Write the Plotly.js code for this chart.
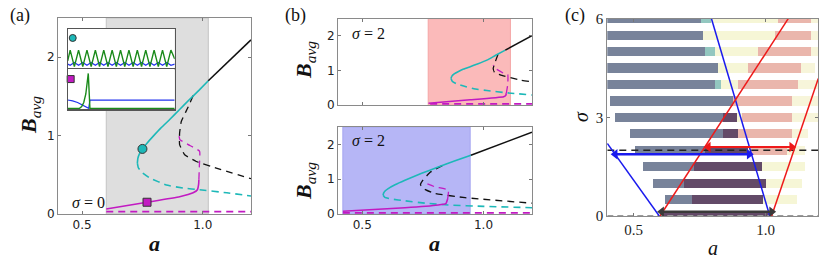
<!DOCTYPE html>
<html><head><meta charset="utf-8">
<script src="https://cdn.plot.ly/plotly-3.0.1.min.js"></script>
<style>html,body{margin:0;padding:0;background:#fff}#chart{width:830px;height:271px}</style>
</head><body><div id="chart"></div><script>
// ---------- Panel (a) : sigma = 0 ----------
const shadeA = [0.6, 1.023];
const aBlackSolidX = [1.023, 1.2], aBlackSolidY = [1.70, 2.22];
const aCyanSolidX = [1.023, 0.985, 0.945, 0.903, 0.863, 0.826, 0.794, 0.768, 0.75, 0.738, 0.731, 0.729];
const aCyanSolidY = [1.70, 1.58, 1.46, 1.33, 1.205, 1.095, 0.99, 0.90, 0.83, 0.77, 0.71, 0.65];
const aCyanDashX = [0.729, 0.733, 0.748, 0.78, 0.849, 0.92, 0.987, 1.1, 1.2];
const aCyanDashY = [0.65, 0.59, 0.53, 0.46, 0.37, 0.33, 0.31, 0.27, 0.23];
const aBlackDashX = [0.96, 0.938, 0.911, 0.904, 0.904, 0.925, 0.973, 1.056, 1.2];
const aBlackDashY = [1.51, 1.355, 1.18, 1.03, 0.885, 0.756, 0.67, 0.586, 0.45];
const aMagSolidX = [0.6, 0.769, 0.904, 0.96, 0.978, 0.983, 0.984];
const aMagSolidY = [0.064, 0.15, 0.22, 0.27, 0.31, 0.38, 0.44];
const aMagDashX = [0.984, 0.986, 0.987, 0.94, 0.905, 0.9];
const aMagDashY = [0.44, 0.62, 0.80, 0.885, 0.95, 1.03];
const aMagLowX = [0.6, 1.2], aMagLowY = [0.03, 0.03];
const aCircle = {a: [0.75], B: [0.83]};
const aSquare = {a: [0.769], B: [0.15]};

// inset time series
const insTopT = [0, 0.3, 0.81, 1.32, 1.83, 2.34, 2.85, 3.36, 3.87, 4.38, 4.89, 5.4, 5.91, 6.42, 6.93, 7.44, 7.95, 8.46, 8.97, 9.48, 9.99, 10.5, 11.01, 11.52, 12.03, 12.54, 13];
const insTopGreen = [0.2, 0.47, 0.06, 0.47, 0.06, 0.47, 0.06, 0.47, 0.06, 0.47, 0.06, 0.47, 0.06, 0.47, 0.06, 0.47, 0.06, 0.47, 0.06, 0.47, 0.06, 0.47, 0.06, 0.47, 0.06, 0.47, 0.25];
const insTopBlue = [0.12, 0.09, 0.16, 0.09, 0.16, 0.09, 0.16, 0.09, 0.16, 0.09, 0.16, 0.09, 0.16, 0.09, 0.16, 0.09, 0.16, 0.09, 0.16, 0.09, 0.16, 0.09, 0.16, 0.09, 0.16, 0.09, 0.12];
const insBotGreenT = [0, 1.4, 1.7, 1.95, 2.2, 2.35, 2.5, 2.7, 13];
const insBotGreen = [0.02, 0.02, 0.07, 0.17, 0.38, 0.6, 0.89, 0.02, 0.02];
const insBotBlueT = [0, 0.6, 1.2, 1.8, 2.3, 2.55, 2.7, 13];
const insBotBlue = [0.23, 0.21, 0.17, 0.11, 0.05, 0.025, 0.23, 0.23];
const insCircle = {t: [0.61], v: [0.77]};
const insSquare = {t: [0.36], v: [0.75]};

// ---------- Panel (b) top : sigma = 2 (red) ----------
const shadeBTop = [0.772, 1.111];
const btBlackSolidX = [1.09, 1.2], btBlackSolidY = [1.59, 2.01];
const btCyanSolidX = [1.09, 1.05, 1.014, 0.975, 0.945, 0.918, 0.897, 0.879, 0.869, 0.866];
const btCyanSolidY = [1.59, 1.44, 1.30, 1.19, 1.11, 1.04, 0.97, 0.90, 0.83, 0.77];
const btCyanDashX = [0.866, 0.871, 0.89, 0.918, 0.96, 1.014, 1.1, 1.2];
const btCyanDashY = [0.77, 0.69, 0.61, 0.55, 0.47, 0.42, 0.35, 0.29];
const btBlackDashX = [1.06, 1.049, 1.04, 1.045, 1.069, 1.152, 1.19];
const btBlackDashY = [1.47, 1.26, 1.06, 0.95, 0.87, 0.72, 0.68];
const btMagSolidX = [0.773, 0.945, 1.083, 1.092, 1.094];
const btMagSolidY = [0.05, 0.15, 0.24, 0.28, 0.34];
const btMagDashX = [1.094, 1.1, 1.1, 1.083, 1.049, 1.04];
const btMagDashY = [0.34, 0.6, 0.88, 0.92, 1.06, 1.16];
const btMagLowX = [0.78, 1.2], btMagLowY = [0.03, 0.03];

// ---------- Panel (b) bottom : sigma = 2 (blue) ----------
const shadeBBot = [0.42, 0.945];
const bbBlackSolidX = [0.948, 1.2], bbBlackSolidY = [1.69, 2.35];
const bbCyanSolidX = [0.948, 0.88, 0.813, 0.745, 0.676, 0.635, 0.607, 0.594, 0.588, 0.586];
const bbCyanSolidY = [1.69, 1.52, 1.35, 1.17, 0.97, 0.84, 0.73, 0.66, 0.60, 0.54];
const bbCyanDashX = [0.586, 0.593, 0.62, 0.676, 0.76, 0.855, 1.0, 1.2];
const bbCyanDashY = [0.54, 0.48, 0.43, 0.38, 0.31, 0.26, 0.22, 0.18];
const bbBlackDashX = [0.83, 0.78, 0.75, 0.74, 0.76, 0.8, 0.924, 1.2];
const bbBlackDashY = [1.39, 1.2, 0.97, 0.84, 0.7, 0.59, 0.47, 0.31];
const bbMagSolidX = [0.42, 0.676, 0.813, 0.845, 0.852];
const bbMagSolidY = [0.08, 0.18, 0.26, 0.30, 0.43];
const bbMagDashX = [0.852, 0.855, 0.8, 0.75];
const bbMagDashY = [0.43, 0.69, 0.78, 0.92];
const bbMagLowX = [0.42, 1.2], bbMagLowY = [0.03, 0.03];

// ---------- Panel (c) : (a, sigma) map ----------
const stripeSigma = [0, 0.5, 1, 1.5, 2, 2.5, 3, 3.5, 4, 4.5, 5, 5.5, 6];
const stripeStart  = [0.606, 0.62, 0.575, 0.536, 0.505, 0.486, 0.43, 0.41, 0.40, 0.40, 0.40, 0.40, 0.40];
const slateEnd     = [0.606, 0.72, 0.69, 0.73, 0.77, 0.84, 0.84, 0.877, 0.808, 0.82, 0.77, 0.764, 0.757];
const purpleEnd    = [1.02, 0.99, 1.0, 0.985, 0.933, 0.895, 0.89, 0.877, 0.808, 0.82, 0.77, 0.764, 0.757];
const tealEnd      = [1.02, 0.99, 1.0, 0.985, 0.933, 0.895, 0.89, 0.877, 0.833, 0.82, 0.81, 0.764, 0.795];
const yellowEnd    = [1.02, 1.12, 1.14, 1.15, 0.945, 0.895, 0.91, 0.877, 0.896, 0.934, 0.97, 1.035, 1.048];
const pinkEnd      = [1.02, 1.12, 1.14, 1.15, 1.08, 1.10, 1.10, 1.10, 1.123, 1.136, 1.174, 1.174, 1.174];
const stripeEnd    = [1.02, 1.12, 1.14, 1.15, 1.15, 1.16, 1.2, 1.2, 1.2, 1.187, 1.2, 1.2, 1.2];
const cBlue1A = [0.4, 0.597], cBlue1S = [2.21, 0];
const cBlue2A = [0.795, 1.016], cBlue2S = [6, 0];
const cRed1A = [0.6, 1.086], cRed1S = [0, 6];
const cRed2A = [1.023, 1.2], cRed2S = [0, 4.18];
const cSigmaCut = [2.0, 2.0], cCutA = [0.4, 1.2];
const cZeroA = [0.4, 1.2], cZeroS = [0, 0];
const cArrowBlueA = [0.43, 0.938], cArrowBlueS = [1.88, 1.88];
const cArrowRedA = [0.783, 1.099], cArrowRedS = [2.1, 2.1];
const cArrowBlackA = [0.606, 1.023], cArrowBlackS = [0.13, 0.13];

// ---------- styles ----------
const W = 830, H = 271;
const dx = (l, r) => [l / W, r / W];
const dy = (t, b) => [1 - b / H, 1 - t / H];
const CYAN = '#1db8b8', MAG = '#c21ac2', BLK = '#111111';
const DASH = '7px,5px';

function ln(xa, ya, x, y, color, dash, width, shape) {
  return {type: 'scatter', mode: 'lines', x: x, y: y, xaxis: xa, yaxis: ya,
    line: {color: color, width: width || 1.6, dash: dash || 'solid', shape: shape || 'spline', smoothing: 0.35},
    hoverinfo: 'skip', showlegend: false};
}
function mk(xa, ya, x, y, sym, color, size) {
  return {type: 'scatter', mode: 'markers', x: x, y: y, xaxis: xa, yaxis: ya,
    marker: {symbol: sym, color: color, size: size, line: {color: '#333', width: 1}},
    hoverinfo: 'skip', showlegend: false, cliponaxis: false};
}

const traces = [];
// panel a
traces.push(ln('x', 'y', aMagLowX, aMagLowY, MAG, DASH));
traces.push(ln('x', 'y', aCyanDashX, aCyanDashY, CYAN, DASH));
traces.push(ln('x', 'y', aBlackDashX, aBlackDashY, BLK, DASH, 1.3));
traces.push(ln('x', 'y', aMagDashX, aMagDashY, MAG, DASH, 1.3));
traces.push(ln('x', 'y', aMagSolidX, aMagSolidY, MAG));
traces.push(ln('x', 'y', aCyanSolidX, aCyanSolidY, CYAN));
traces.push(ln('x', 'y', aBlackSolidX, aBlackSolidY, BLK));
traces.push(mk('x', 'y', aCircle.a, aCircle.B, 'circle', CYAN, 9));
traces.push(mk('x', 'y', aSquare.a, aSquare.B, 'square', MAG, 8));
// insets
traces.push(ln('x2', 'y2', insTopT, insTopBlue, '#2233ee', 'solid', 1.2, 'linear'));
traces.push(ln('x2', 'y2', insTopT, insTopGreen, '#1a8a1a', 'solid', 1.4, 'linear'));
traces.push(mk('x2', 'y2', insCircle.t, insCircle.v, 'circle', CYAN, 7));
traces.push(ln('x3', 'y3', insBotBlueT, insBotBlue, '#2233ee', 'solid', 1.2, 'linear'));
traces.push(ln('x3', 'y3', insBotGreenT, insBotGreen, '#1a8a1a', 'solid', 1.4, 'linear'));
traces.push(mk('x3', 'y3', insSquare.t, insSquare.v, 'square', MAG, 7));
// panel b top
traces.push(ln('x4', 'y4', btMagLowX, btMagLowY, MAG, DASH, 1.8));
traces.push(ln('x4', 'y4', btCyanDashX, btCyanDashY, CYAN, DASH));
traces.push(ln('x4', 'y4', btBlackDashX, btBlackDashY, BLK, DASH, 1.3));
traces.push(ln('x4', 'y4', btMagDashX, btMagDashY, MAG, DASH, 1.3));
traces.push(ln('x4', 'y4', btMagSolidX, btMagSolidY, MAG));
traces.push(ln('x4', 'y4', btCyanSolidX, btCyanSolidY, CYAN));
traces.push(ln('x4', 'y4', btBlackSolidX, btBlackSolidY, BLK));
// panel b bottom
traces.push(ln('x5', 'y5', bbMagLowX, bbMagLowY, MAG, DASH, 1.8));
traces.push(ln('x5', 'y5', bbCyanDashX, bbCyanDashY, CYAN, DASH));
traces.push(ln('x5', 'y5', bbBlackDashX, bbBlackDashY, BLK, DASH, 1.3));
traces.push(ln('x5', 'y5', bbMagDashX, bbMagDashY, MAG, DASH, 1.3));
traces.push(ln('x5', 'y5', bbMagSolidX, bbMagSolidY, MAG));
traces.push(ln('x5', 'y5', bbCyanSolidX, bbCyanSolidY, CYAN));
traces.push(ln('x5', 'y5', bbBlackSolidX, bbBlackSolidY, BLK));
// panel c stripes (segments drawn as horizontal bars)
const segs = [
  [stripeStart, slateEnd, '#78839a'],
  [slateEnd, purpleEnd, '#634a68'],
  [purpleEnd, tealEnd, '#93c7c0'],
  [tealEnd, yellowEnd, '#f6f6d6'],
  [yellowEnd, pinkEnd, '#eab6ac'],
  [pinkEnd, stripeEnd, '#f7f5da']
];
segs.forEach(s => {
  traces.push({type: 'bar', orientation: 'h', xaxis: 'x6', yaxis: 'y6',
    y: stripeSigma, base: s[0], x: s[1].map((e, i) => e - s[0][i]),
    width: 0.28, marker: {color: s[2], line: {width: 0}}, hoverinfo: 'skip', showlegend: false});
});
traces.push(ln('x6', 'y6', cZeroA, cZeroS, '#9a9a9a', '6px,4px', 2, 'linear'));
traces.push(ln('x6', 'y6', cCutA, cSigmaCut, '#222', '7px,5px', 1.3, 'linear'));
traces.push(ln('x6', 'y6', cBlue1A, cBlue1S, '#1a1aee', 'solid', 1.5, 'linear'));
traces.push(ln('x6', 'y6', cBlue2A, cBlue2S, '#1a1aee', 'solid', 1.5, 'linear'));
traces.push(ln('x6', 'y6', cRed1A, cRed1S, '#ee1a1a', 'solid', 1.5, 'linear'));
traces.push(ln('x6', 'y6', cRed2A, cRed2S, '#ee1a1a', 'solid', 1.5, 'linear'));
function arrow(x, y, color, w) {
  return {type: 'scatter', mode: 'lines+markers', x: x, y: y, xaxis: 'x6', yaxis: 'y6',
    line: {color: color, width: w}, marker: {symbol: ['triangle-left', 'triangle-right'], size: 9, color: color},
    hoverinfo: 'skip', showlegend: false, cliponaxis: false};
}
traces.push(arrow(cArrowBlueA, cArrowBlueS, '#1a1aee', 2.6));
traces.push(arrow(cArrowRedA, cArrowRedS, '#ee1a1a', 2));
traces.push(arrow(cArrowBlackA, cArrowBlackS, '#3a3a3a', 2.6));

// ---------- layout ----------
const sansTick = {family: 'DejaVu Sans', size: 12, color: '#222'};
const serifTick = {family: 'Liberation Serif', size: 15, color: '#222'};
function ax(anchor, domain, range, tickvals, ticktext, font, showlabels) {
  return {anchor: anchor, domain: domain, range: range, tickvals: tickvals, ticktext: ticktext,
    showticklabels: showlabels !== false, tickfont: font, ticks: 'inside', ticklen: 3, tickcolor: '#777',
    showline: true, linecolor: '#8a8a8a', linewidth: 1, mirror: 'ticks', showgrid: false, zeroline: false,
    fixedrange: true};
}
function insetAx(anchor, domain, range) {
  return {anchor: anchor, domain: domain, range: range, showticklabels: false, ticks: '', showline: true,
    linecolor: '#555', linewidth: 1.2, mirror: true, showgrid: false, zeroline: false};
}
const xa = dx(58, 251), ya = dy(18, 214);
const xb = dx(338, 532), ybt = dy(18.7, 105), ybb = dy(127, 214);
const xc = dx(607.3, 818.3), yc = dy(18.7, 216);
const xin = dx(67.7, 174.7), yinT = dy(28.7, 69), yinB = dy(69, 109.3);

function ann(x, y, text, size, opts) {
  return Object.assign({xref: 'paper', yref: 'paper', x: x / W, y: 1 - y / H, text: text, showarrow: false,
    font: {family: 'Liberation Serif', size: size, color: '#111'}, xanchor: 'center', yanchor: 'middle'}, opts || {});
}
const Bavg = '<b><i>B</i></b><sub><i>avg</i></sub>';

const layout = {
  width: W, height: H, margin: {l: 0, r: 0, t: 0, b: 0},
  paper_bgcolor: '#fff', plot_bgcolor: '#fff', showlegend: false, hovermode: false,
  barmode: 'overlay', bargap: 0,
  xaxis: ax('y', xa, [0.4, 1.2], [0.5, 1.0], ['0.5', '1.0'], sansTick),
  yaxis: ax('x', ya, [0, 2.5], [0, 1, 2], ['0', '1', '2'], sansTick),
  xaxis2: insetAx('y2', xin, [0, 13]), yaxis2: insetAx('x2', yinT, [0, 1]),
  xaxis3: insetAx('y3', xin, [0, 13]), yaxis3: insetAx('x3', yinB, [0, 1]),
  xaxis4: ax('y4', xb, [0.4, 1.2], [0.5, 1.0], ['0.5', '1.0'], sansTick, false),
  yaxis4: ax('x4', ybt, [0, 2.5], [0, 1, 2], ['0', '1', '2'], sansTick),
  xaxis5: ax('y5', xb, [0.4, 1.2], [0.5, 1.0], ['0.5', '1.0'], sansTick),
  yaxis5: ax('x5', ybb, [0, 2.5], [0, 1, 2], ['0', '1', '2'], sansTick),
  xaxis6: ax('y6', xc, [0.4, 1.2], [0.5, 1.0], ['0.5', '1.0'], serifTick),
  yaxis6: ax('x6', yc, [0, 6], [0, 3, 6], ['0', '3', '6'], serifTick),
  shapes: [
    {type: 'rect', xref: 'x', yref: 'y domain', x0: shadeA[0], x1: shadeA[1], y0: 0, y1: 1,
     fillcolor: '#dedede', line: {color: '#c4c4c4', width: 1}, layer: 'below'},
    {type: 'rect', xref: 'x4', yref: 'y4 domain', x0: shadeBTop[0], x1: shadeBTop[1], y0: 0, y1: 1,
     fillcolor: '#fbbaba', line: {color: '#f5a5a5', width: 1}, layer: 'below'},
    {type: 'rect', xref: 'x5', yref: 'y5 domain', x0: shadeBBot[0], x1: shadeBBot[1], y0: 0, y1: 1,
     fillcolor: '#b6b6f6', line: {color: '#a5a5f0', width: 1}, layer: 'below'}
  ],
  annotations: [
    ann(8, 15, '(a)', 18, {xanchor: 'left'}),
    ann(283, 15, '(b)', 18, {xanchor: 'left'}),
    ann(563, 15, '(c)', 18, {xanchor: 'left'}),
    ann(70, 202, '<i>σ</i> = 0', 16, {xanchor: 'left'}),
    ann(350, 33, '<i>σ</i> = 2', 16, {xanchor: 'left'}),
    ann(350, 140, '<i>σ</i> = 2', 16, {xanchor: 'left'}),
    ann(154, 243, '<b><i>a</i></b>', 22),
    ann(434, 243, '<b><i>a</i></b>', 22),
    ann(713, 248, '<i>a</i>', 20),
    ann(30, 115, Bavg, 22, {textangle: -90}),
    ann(305, 60, Bavg, 22, {textangle: -90}),
    ann(305, 181, Bavg, 22, {textangle: -90}),
    ann(581, 117, '<i>σ</i>', 20, {textangle: -90})
  ]
};
Plotly.newPlot('chart', traces, layout, {staticPlot: true, displayModeBar: false});
</script></body></html>
